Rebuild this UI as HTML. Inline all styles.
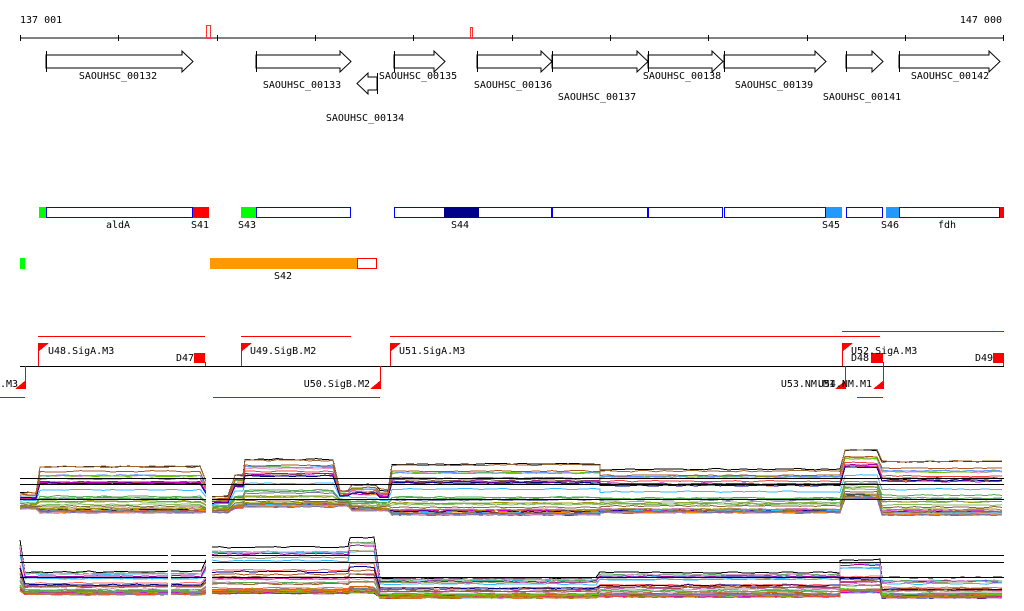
<!DOCTYPE html>
<html><head><meta charset="utf-8">
<style>
html,body{margin:0;padding:0;background:#fff;width:1024px;height:611px;overflow:hidden}
svg{display:block}
text{font-family:"DejaVu Sans Mono","Liberation Mono",monospace;font-size:10px;fill:#000}
</style></head><body>
<svg id="s" width="1024" height="611" viewBox="0 0 1024 611" xmlns="http://www.w3.org/2000/svg">
<g shape-rendering="crispEdges">
<text x="20" y="23">137 001</text>
<text x="1002" y="23" text-anchor="end">147 000</text>
<line x1="20" y1="38" x2="1004" y2="38" stroke="#000"/>
<g stroke="#000">
<line x1="20.5" y1="35" x2="20.5" y2="41"/><line x1="118.5" y1="35" x2="118.5" y2="41"/><line x1="217.5" y1="35" x2="217.5" y2="41"/><line x1="315.5" y1="35" x2="315.5" y2="41"/><line x1="413.5" y1="35" x2="413.5" y2="41"/><line x1="512.5" y1="35" x2="512.5" y2="41"/><line x1="610.5" y1="35" x2="610.5" y2="41"/><line x1="708.5" y1="35" x2="708.5" y2="41"/><line x1="807.5" y1="35" x2="807.5" y2="41"/><line x1="905.5" y1="35" x2="905.5" y2="41"/><line x1="1003.5" y1="35" x2="1003.5" y2="41"/>
</g>
<rect x="206.5" y="25.5" width="4" height="13" fill="none" stroke="#f33"/>
<rect x="470.5" y="27.5" width="2" height="11" fill="none" stroke="#f33"/>
</g>
<g id="genes" fill="#fff" stroke="#000"></g>
<g font-size="10">
<text x="118" y="79" text-anchor="middle">SAOUHSC_00132</text>
<text x="302" y="88" text-anchor="middle">SAOUHSC_00133</text>
<text x="365" y="121" text-anchor="middle">SAOUHSC_00134</text>
<text x="418" y="79" text-anchor="middle">SAOUHSC_00135</text>
<text x="513" y="88" text-anchor="middle">SAOUHSC_00136</text>
<text x="597" y="100" text-anchor="middle">SAOUHSC_00137</text>
<text x="682" y="79" text-anchor="middle">SAOUHSC_00138</text>
<text x="774" y="88" text-anchor="middle">SAOUHSC_00139</text>
<text x="862" y="100" text-anchor="middle">SAOUHSC_00141</text>
<text x="950" y="79" text-anchor="middle">SAOUHSC_00142</text>
</g>
<g shape-rendering="crispEdges">
<rect x="39" y="207" width="7" height="11" fill="#0f0"/>
<rect x="46.5" y="207.5" width="146" height="10" fill="#fff" stroke="#00f"/>
<rect x="193" y="207" width="16" height="11" fill="#f00"/>
<rect x="241" y="207" width="15" height="11" fill="#0f0"/>
<rect x="256.5" y="207.5" width="94" height="10" fill="#fff" stroke="#00f"/>
<rect x="394.5" y="207.5" width="157" height="10" fill="#fff" stroke="#00f"/>
<rect x="444" y="207" width="35" height="11" fill="#008"/>
<rect x="552.5" y="207.5" width="95" height="10" fill="#fff" stroke="#00f"/>
<rect x="648.5" y="207.5" width="74" height="10" fill="#fff" stroke="#00f"/>
<rect x="724.5" y="207.5" width="101" height="10" fill="#fff" stroke="#00f"/>
<rect x="826" y="207" width="16" height="11" fill="#29f"/>
<rect x="846.5" y="207.5" width="36" height="10" fill="#fff" stroke="#00f"/>
<rect x="886" y="207" width="13" height="11" fill="#29f"/>
<rect x="899.5" y="207.5" width="100" height="10" fill="#fff" stroke="#00f"/>
<rect x="1000" y="207" width="4" height="11" fill="#f00"/>
<rect x="20" y="258" width="5" height="11" fill="#0f0"/>
<rect x="210" y="258" width="147" height="11" fill="#f90"/>
<rect x="357.5" y="258.5" width="19" height="10" fill="#fff" stroke="#f00"/>
</g>
<text x="118" y="228" text-anchor="middle">aldA</text>
<text x="200" y="228" text-anchor="middle">S41</text>
<text x="247" y="228" text-anchor="middle">S43</text>
<text x="460" y="228" text-anchor="middle">S44</text>
<text x="831" y="228" text-anchor="middle">S45</text>
<text x="890" y="228" text-anchor="middle">S46</text>
<text x="947" y="228" text-anchor="middle">fdh</text>
<text x="283" y="279" text-anchor="middle">S42</text>
<g shape-rendering="crispEdges">
<line x1="20" y1="366.5" x2="1004" y2="366.5" stroke="#000"/>
<g stroke="#f00">
<line x1="38" y1="336.5" x2="205" y2="336.5"/>
<line x1="241" y1="336.5" x2="351" y2="336.5"/>
<line x1="390" y1="336.5" x2="880" y2="336.5"/>
<line x1="842" y1="331.5" x2="1004" y2="331.5"/>
<line x1="0" y1="397.5" x2="25" y2="397.5"/>
<line x1="213" y1="397.5" x2="380" y2="397.5"/>
<line x1="857" y1="397.5" x2="883" y2="397.5"/>
<line x1="38.5" y1="343" x2="38.5" y2="366"/>
<line x1="241.5" y1="343" x2="241.5" y2="366"/>
<line x1="390.5" y1="343" x2="390.5" y2="366"/>
<line x1="842.5" y1="343" x2="842.5" y2="366"/>
<line x1="25.5" y1="366" x2="25.5" y2="389"/>
<line x1="380.5" y1="366" x2="380.5" y2="389"/>
<line x1="845.5" y1="366" x2="845.5" y2="389"/>
<line x1="883.5" y1="362" x2="883.5" y2="389"/>
<line x1="205.5" y1="362" x2="205.5" y2="366"/>
<line x1="1003.5" y1="362" x2="1003.5" y2="366"/>
</g>
<g fill="#f00">
<polygon points="38,343 49,343 38,352"/>
<polygon points="241,343 252,343 241,352"/>
<polygon points="390,343 401,343 390,352"/>
<polygon points="842,343 853,343 842,352"/>
<polygon points="26,389 26,380 15,389"/>
<polygon points="381,389 381,380 370,389"/>
<polygon points="846,389 846,380 835,389"/>
<polygon points="884,389 884,380 873,389"/>
<rect x="194" y="353" width="11" height="10"/>
<rect x="871" y="353" width="12" height="10"/>
<rect x="993" y="353" width="11" height="10"/>
</g>
</g>
<text x="48" y="354">U48.SigA.M3</text>
<text x="250" y="354">U49.SigB.M2</text>
<text x="399" y="354">U51.SigA.M3</text>
<text x="851" y="354">U52.SigA.M3</text>
<text x="176" y="361">D47</text>
<text x="851" y="361">D48</text>
<text x="975" y="361">D49</text>
<text x="0" y="387">.M3</text>
<text x="370" y="387" text-anchor="end">U50.SigB.M2</text>
<text x="835" y="387" text-anchor="end">U53.NM.M1</text>
<text x="872" y="387" text-anchor="end">U54.NM.M1</text>
<g id="plots" fill="none" stroke-width="1" shape-rendering="crispEdges"></g>
<g stroke="#000" shape-rendering="crispEdges">
<line x1="20" y1="478.5" x2="1004" y2="478.5"/>
<line x1="20" y1="484.5" x2="1004" y2="484.5"/>
<line x1="20" y1="499.5" x2="1004" y2="499.5"/>
<line x1="20" y1="555.5" x2="1004" y2="555.5"/>
<line x1="20" y1="562.5" x2="1004" y2="562.5"/>
<line x1="20" y1="577.5" x2="1004" y2="577.5"/>
</g>
<rect x="206" y="440" width="6" height="85" fill="#fff"/>
<rect x="168" y="530" width="3" height="70" fill="#fff"/>
<rect x="206" y="530" width="6" height="70" fill="#fff"/>
</svg>
<script>
(function(){
var NS="http://www.w3.org/2000/svg";
var g=document.getElementById("genes");
function fwd(a,b,y){var t=y+4,bo=y+17,m=y+10.5,hx=b-11;
 var p=document.createElementNS(NS,"polygon");
 p.setAttribute("points",a+","+t+" "+hx+","+t+" "+hx+","+y+" "+b+","+m+" "+hx+","+(y+21)+" "+hx+","+bo+" "+a+","+bo);
 g.appendChild(p);
 var l=document.createElementNS(NS,"line");l.setAttribute("x1",a+.5);l.setAttribute("x2",a+.5);l.setAttribute("y1",y);l.setAttribute("y2",y+21);g.appendChild(l);}
function rev(a,b,y){var t=y+4,bo=y+17,m=y+10.5,hx=a+11;
 var p=document.createElementNS(NS,"polygon");
 p.setAttribute("points",b+","+t+" "+hx+","+t+" "+hx+","+y+" "+a+","+m+" "+hx+","+(y+21)+" "+hx+","+bo+" "+b+","+bo);
 g.appendChild(p);
 var l=document.createElementNS(NS,"line");l.setAttribute("x1",b+.5);l.setAttribute("x2",b+.5);l.setAttribute("y1",y);l.setAttribute("y2",y+21);g.appendChild(l);}
[[46,193],[256,351],[394,445],[477,552],[552,648],[648,723],[724,826],[846,883],[899,1000]].forEach(function(x){fwd(x[0],x[1],51);});
rev(357,377,73);
var seed=11;function rnd(){seed=(seed*16807)%2147483647;return seed/2147483647;}
var cols=["#e63","#c60","#996","#8b6","#6c0","#3bf","#69f","#a0a","#c39","#b8a","#d9c","#a52","#f80","#963","#77a","#c0c","#e44","#990","#5a5","#008","#864","#c8a","#f66","#d73"];
var P=document.getElementById("plots");
var top=[[20,40,493,508],[40,205,467,512],[212,235,497,512],[235,245,475,507],[245,340,460,506],[340,352,490,505],[352,380,485,510],[380,392,490,510],[392,600,465,514],[600,845,470,512],[845,882,450,498],[882,1004,462,514]];
var bot=[[20,25,540,590],[25,205,572,594],[212,350,547,593],[350,380,537,592],[380,600,578,597],[600,840,573,596],[840,882,560,592],[882,1004,578,597]];
function draw(segs,n){
 for(var i=0;i<n;i++){
  var r=rnd();var rr=Math.pow(r,4.5);var c=i==0?"#000":cols[i%cols.length];
  if(i==0)rr=1;
  var pts=[];
  segs.forEach(function(s){
   var base=s[3]-rr*(s[3]-s[2])+(rnd()-.5)*2;
   for(var x=s[0];x<=s[1];x+=8){var y=base+(rnd()-.5)*1.5;pts.push(x+","+y.toFixed(1));}
  });
  var pl=document.createElementNS(NS,"polyline");pl.setAttribute("points",pts.join(" "));pl.setAttribute("stroke",c);P.appendChild(pl);
 }
}
draw(top,45);draw(bot,45);
})();
</script>
</body></html>
